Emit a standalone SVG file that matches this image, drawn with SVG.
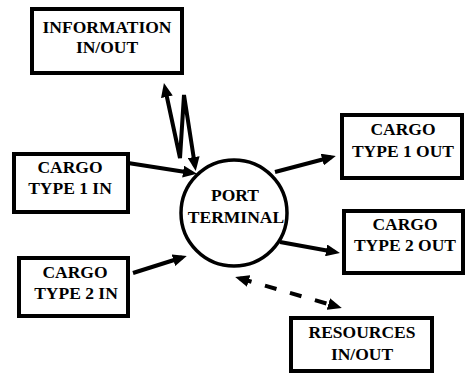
<svg xmlns="http://www.w3.org/2000/svg" width="465" height="373" viewBox="0 0 465 373">
<style>
.box{fill:#fff;stroke:#000;stroke-width:4}
.t{font-family:"Liberation Serif","DejaVu Serif",serif;font-weight:bold;font-size:17.5px;fill:#000;text-anchor:middle}
.ln{fill:none;stroke:#000;stroke-width:4}
.dash{stroke-dasharray:12 14}
</style>
<defs>
<marker id="ah" markerUnits="userSpaceOnUse" viewBox="0 0 14 12" markerWidth="14" markerHeight="12" refX="9" refY="6" orient="auto-start-reverse">
<path d="M0,0 L14,6 L0,12 z" fill="#000"/>
</marker>
</defs>
<rect width="465" height="373" fill="#fff"/>
<g id="connectors">
<path class="ln" d="M165,88 L180,158 L184,95 L195,166" marker-start="url(#ah)" marker-end="url(#ah)"/>
<line class="ln" x1="128" y1="163" x2="192" y2="173" marker-end="url(#ah)"/>
<line class="ln" x1="133" y1="273" x2="182" y2="257.5" marker-end="url(#ah)"/>
<line class="ln" x1="275" y1="172" x2="331" y2="157.3" marker-end="url(#ah)"/>
<line class="ln" x1="280" y1="242" x2="335" y2="252" marker-end="url(#ah)"/>
<line class="ln dash" x1="240" y1="278.4" x2="337" y2="306.6" marker-start="url(#ah)" marker-end="url(#ah)"/>
</g>
<g id="port">
<circle cx="234" cy="213" r="53" fill="#fff" stroke="#000" stroke-width="3.5"/>
<text class="t" x="235" y="201">PORT</text>
<text class="t" x="236" y="223">TERMINAL</text>
</g>
<g id="information">
<rect class="box" x="32" y="9" width="150" height="64"/>
<text class="t" x="107" y="33">INFORMATION</text>
<text class="t" x="107" y="53">IN/OUT</text>
</g>
<g id="cargo1in">
<rect class="box" x="14" y="154" width="114" height="58"/>
<text class="t" x="70" y="173">CARGO</text>
<text class="t" x="70" y="194">TYPE 1 IN</text>
</g>
<g id="cargo2in">
<rect class="box" x="19" y="258" width="109" height="58"/>
<text class="t" x="75" y="278">CARGO</text>
<text class="t" x="76" y="299">TYPE 2 IN</text>
</g>
<g id="cargo1out">
<rect class="box" x="342" y="115" width="120" height="63"/>
<text class="t" x="403" y="135">CARGO</text>
<text class="t" x="403" y="157">TYPE 1 OUT</text>
</g>
<g id="cargo2out">
<rect class="box" x="344" y="211" width="119" height="62"/>
<text class="t" x="405" y="230">CARGO</text>
<text class="t" x="405" y="251">TYPE 2 OUT</text>
</g>
<g id="resources">
<rect class="box" x="291" y="318" width="141" height="53"/>
<text class="t" x="362" y="338">RESOURCES</text>
<text class="t" x="362" y="360">IN/OUT</text>
</g>
</svg>
